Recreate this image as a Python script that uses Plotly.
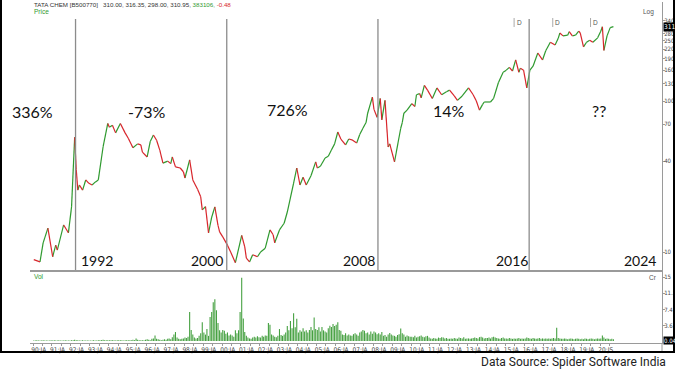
import numpy as np
import pandas as pd
import plotly.graph_objects as go

# ---------------- data ----------------
price_dates = [
    "1990-01","1990-05","1990-07","1990-10","1991-01","1991-03","1991-04","1991-08","1991-11",
    "1992-01","1992-03","1992-04","1992-05","1992-06","1992-08","1992-10","1992-12",
    "1993-02","1993-04","1993-06","1993-09","1993-12","1994-01","1994-03","1994-05","1994-08","1994-11",
    "1995-01","1995-04","1995-07","1995-09","1995-10","1996-01","1996-03","1996-05","1996-07","1996-09","1996-11",
    "1997-02","1997-04","1997-05","1997-07","1997-10","1997-12","1998-01","1998-04","1998-06","1998-09","1998-11","1998-12",
    "1999-02","1999-04","1999-06","1999-08","1999-10","1999-11","2000-01","2000-04","2000-06","2000-09",
    "2001-01","2001-03","2001-04","2001-06","2001-08","2001-11","2002-01","2002-04","2002-07","2002-09","2002-10",
    "2003-01","2003-04","2003-06","2003-10","2003-12","2004-02","2004-04","2004-06","2004-09","2004-12",
    "2005-01","2005-03","2005-06","2005-08","2005-10","2005-12","2006-02","2006-04","2006-07","2006-09","2006-11",
    "2007-02","2007-04","2007-06","2007-08","2007-09","2007-12","2008-01","2008-03","2008-05","2008-06","2008-08",
    "2008-10","2008-11","2009-02","2009-06","2009-07","2009-08","2009-10","2010-01","2010-03","2010-04","2010-06",
    "2010-07","2010-09","2010-11","2011-02","2011-05","2011-08","2011-11","2012-01","2012-04","2012-06","2012-09",
    "2013-01","2013-04","2013-06","2013-08","2013-10","2013-11","2014-03","2014-05","2014-08","2014-11",
    "2015-01","2015-03","2015-05","2015-07","2015-09","2015-10","2015-12","2016-02","2016-04","2016-06","2016-09","2016-12",
    "2017-02","2017-05","2017-08","2017-10","2017-11","2018-01","2018-04","2018-05","2018-07","2018-09","2018-11","2018-12",
    "2019-02","2019-04","2019-06","2019-08","2019-11","2020-01","2020-02","2020-03","2020-05","2020-07","2020-09",
]
price_values = [
    8.9, 8.6, 11.5, 14.4, 9.3, 11.1, 10.3, 15.1, 13.4,
    19.9, 57.6, 35, 25.7, 27.8, 25.7, 30, 28.5,
    27.8, 29, 30, 49.6, 71, 67, 69, 61.5, 71, 61.5,
    56.6, 49, 52, 51.2, 45.9, 42.6, 54, 59.5, 55, 47.3, 38.8,
    40, 38.5, 42.6, 36.6, 36, 34, 30.9, 40.7, 30, 26, 23.2, 19,
    20, 13.4, 17, 19.9, 15, 13.6, 12.6, 11.1, 10, 8.5,
    12.9, 10.8, 9.1, 8.6, 9.6, 9.3, 10, 10.6, 14, 13, 11.5,
    14, 15.5, 18.4, 28.6, 36, 27.8, 31.3, 27.8, 32, 39.5,
    36, 37, 41.9, 43, 47.3, 52, 62.3, 56, 51.2, 56, 55.3,
    52.7, 60, 66, 72, 83, 106, 88, 78, 104, 75, 101,
    49.6, 52, 39.5, 66, 72, 83, 87, 96, 92, 110, 112,
    105, 127, 118, 104, 122, 110, 115, 118, 108, 101, 108,
    122, 110, 100, 87, 95, 98.5, 98.5, 104, 132, 155,
    160, 167, 158, 187, 155, 165, 160, 122, 160, 170, 208, 187,
    215, 245, 235, 260, 282, 270, 273, 288, 270, 273, 290, 282,
    228, 245, 253, 245, 262, 290, 310, 216, 270, 306, 311,
]

vol_1990s = [
    0.1,0.1,0.15,0.1,0.1,0.1,0.15,0.1,0.1,0.1,0.1,0.15,
    0.1,0.15,0.1,0.1,0.15,0.1,0.1,0.1,0.15,0.1,0.1,0.1,
    0.15,0.2,0.3,0.2,0.15,0.1,0.1,0.15,0.1,0.1,0.1,0.1,
    0.1,0.1,0.15,0.1,0.1,0.15,0.2,0.2,0.3,0.2,0.15,0.2,
    0.2,0.15,0.2,0.15,0.1,0.2,0.15,0.2,0.15,0.1,0.15,0.2,
    0.2,0.15,0.2,0.3,0.2,0.6,0.3,0.2,0.15,0.2,0.2,0.3,
    0.4,0.3,0.2,0.5,0.6,1.3,0.5,0.4,0.3,0.2,0.3,0.4,
    0.3,0.5,0.6,0.4,0.9,1.5,2.1,0.8,0.5,0.4,0.5,0.6,
    0.8,0.7,1.0,6.8,2.6,1.5,0.8,0.6,0.7,1.2,1.8,4.4,
    2.0,1.5,2.8,1.2,5.6,6.8,9.1,9.8,7.2,4.2,2.5,2.0,
]
vol_2000s = [
    2.6,2.4,1.7,2.0,1.3,1.5,1.3,1.0,2.5,1.8,2.5,6.8,
    14.8,5.3,2.1,1.2,0.8,0.6,0.5,0.8,1.0,0.8,1.1,0.9,
    0.8,1.2,1.0,1.3,1.2,4.2,3.8,1.5,1.3,1.0,0.9,1.2,
    2.8,1.4,1.2,1.5,2.0,3.5,2.5,4.7,3.0,6.5,3.2,5.2,
    2.0,2.5,2.2,3.0,2.2,2.5,2.0,2.6,3.3,2.5,5.5,2.8,
    2.6,3.2,2.2,3.3,2.5,2.2,2.0,3.0,3.6,3.3,4.0,3.5,
    3.8,4.4,2.6,2.4,1.5,1.4,1.8,1.3,1.5,1.3,1.2,1.6,
    1.8,1.5,1.2,2.0,2.2,2.6,2.4,1.8,2.0,1.5,2.2,1.7,
    2.2,2.0,1.6,1.8,1.5,2.1,1.2,1.4,1.0,1.5,1.9,1.5,
    1.3,1.2,1.0,1.4,1.6,2.9,1.8,1.5,1.0,1.3,1.1,1.0,
]
vol_2010s = [
    1.0,0.9,1.2,0.8,1.0,1.1,1.3,1.0,0.9,1.1,1.2,0.8,
    0.6,0.5,0.7,0.6,0.5,0.8,0.7,0.9,0.8,0.6,0.7,0.5,
    0.5,0.6,0.5,0.7,0.6,0.5,0.8,0.7,0.6,0.9,0.5,0.6,
    0.6,0.5,0.6,0.7,0.8,0.7,0.6,0.9,1.0,0.8,0.6,0.7,
    0.7,0.8,0.6,0.9,1.0,0.8,0.7,0.6,0.5,0.7,0.8,0.6,
    0.6,0.5,0.7,0.6,0.5,0.6,0.5,0.6,0.7,0.5,0.6,0.5,
    0.6,0.8,0.7,0.6,0.5,0.7,0.6,0.5,0.6,0.7,0.5,0.6,
    0.5,0.6,0.5,0.6,0.5,0.6,0.7,0.6,3.1,0.7,0.6,0.5,
    0.5,0.6,0.5,0.4,0.5,0.6,0.5,0.4,0.5,0.6,0.5,0.4,
    0.5,0.4,0.6,0.5,0.4,0.5,0.6,0.5,0.4,0.5,0.6,0.5,
]
vol_2020 = [0.6,1.3,0.8,0.5,0.6,0.5,0.4,0.5,0.4]

period_starts = ["1992-04-01", "2000-04-01", "2008-04-01", "2016-04-01"]
period_labels = ["1992", "2000", "2008", "2016", "2024"]
period_returns = ["336%", "-73%", "726%", "14%", "??"]
dividend_dates = ["2015-06-15", "2017-07-01", "2019-07-01"]
year_ticks = list(range(1990, 2021))
year_ticktext = [f"{y % 100:02d}:JA" for y in year_ticks[:-1]] + ["20:JS"]
price_ticks = [340, 280, 250, 220, 190, 160, 130, 100, 70, 40, 10]
vol_ticks = [15, 11.2, 7.4, 3.6]
last_close = 310.95
last_vol = 0.04
header_name = "TATA CHEM [B500770]"
header_ohlc = "310.00, 316.35, 298.00, 310.95,"
header_vol = "383106,"
header_chg = "-0.48"
source_text = "Data Source: Spider Software India"

# ---------------- build ----------------
GREEN = "#2f9a2f"
RED = "#d8262c"
GRID = "#9a9a9a"
TXT = "#333333"
SMALL = "Liberation Sans Narrow, DejaVu Sans Condensed, Liberation Sans, Arial, sans-serif"
HEAD = "Liberation Sans, Arial, sans-serif"

pd_dates = pd.to_datetime([d + "-15" for d in price_dates])
gx, gy, rx, ry = [], [], [], []
for i in range(len(price_values) - 1):
    if price_values[i + 1] >= price_values[i]:
        gx += [pd_dates[i], pd_dates[i + 1], None]
        gy += [price_values[i], price_values[i + 1], None]
    else:
        rx += [pd_dates[i], pd_dates[i + 1], None]
        ry += [price_values[i], price_values[i + 1], None]

volumes = vol_1990s + vol_2000s + vol_2010s + vol_2020
vol_dates = pd.date_range("1990-01-01", periods=len(volumes), freq="MS") + pd.Timedelta(days=14)

fig = go.Figure()
fig.add_trace(go.Scatter(x=gx, y=gy, mode="lines", line=dict(color=GREEN, width=1.2),
                         xaxis="x2", yaxis="y2", hoverinfo="skip", showlegend=False))
fig.add_trace(go.Scatter(x=rx, y=ry, mode="lines", line=dict(color=RED, width=1.2),
                         xaxis="x2", yaxis="y2", hoverinfo="skip", showlegend=False))
fig.add_trace(go.Bar(x=vol_dates, y=volumes, marker=dict(color="#45a040", line=dict(width=0)),
                     xaxis="x", yaxis="y", showlegend=False, hoverinfo="skip"))

# plot-area geometry helpers (pixels -> paper)
L, R, T, B = 30, 13, 2, 32
W, H = 675, 375
PW, PH = W - L - R, H - T - B
def px(x):
    return (x - L) / PW
def py(y):
    return (H - B - y) / PH

split = py(270)
xr = ["1989-11-03", "2023-04-12"]
xtickfont = dict(family=SMALL, size=6.5, color="#444")
ytickfont = dict(family=SMALL, size=6, color="#444")

fig.update_layout(
    width=W, height=H, margin=dict(l=L, r=R, t=T, b=B, autoexpand=False),
    paper_bgcolor="white", plot_bgcolor="white", bargap=0.25,
    font=dict(family=HEAD, size=7, color=TXT),
    xaxis=dict(domain=[0, 1], range=xr, type="date", anchor="y", automargin=False, tickangle=0,
               tickmode="array", tickvals=[f"{y}-04-20" for y in year_ticks], ticktext=year_ticktext,
               ticks="", showgrid=False, showline=True, linecolor=GRID, linewidth=1,
               tickfont=xtickfont,
               minor=dict(tickmode="array", tickvals=[f"{y}-01-01" for y in year_ticks] +
                          [f"{y}-07-01" for y in year_ticks],
                          ticks="outside", ticklen=2, tickcolor=GRID), zeroline=False),
    xaxis2=dict(domain=[0, 1], range=xr, type="date", anchor="y2", matches="x", automargin=False,
                showticklabels=False, ticks="", showgrid=False, showline=True,
                linecolor=GRID, linewidth=1.5, zeroline=False),
    yaxis=dict(domain=[0, split], range=[-0.47, 16.64], side="right", anchor="x", automargin=False,
               tickmode="array", tickvals=vol_ticks, ticktext=[str(v) for v in vol_ticks],
               ticks="outside", ticklen=2, tickcolor=GRID, showgrid=False, showline=True,
               linecolor=GRID, linewidth=1, zeroline=False, tickfont=ytickfont,
               ticklabelstandoff=-2),
    yaxis2=dict(domain=[split, 1], type="log", range=[0.8808, 2.6556], side="right", anchor="x2",
                automargin=False,
                tickmode="array", tickvals=price_ticks, ticktext=[str(v) for v in price_ticks],
                ticks="outside", ticklen=2, tickcolor=GRID, showgrid=False, showline=True,
                linecolor=GRID, linewidth=1, zeroline=False, tickfont=ytickfont,
                ticklabelstandoff=-2),
)

shapes = []
for d in period_starts:
    shapes.append(dict(type="line", xref="x2", yref="paper", x0=d, x1=d, y0=py(270), y1=py(19),
                       line=dict(color="#8c8c8c", width=1.3)))
for d in dividend_dates:
    shapes.append(dict(type="line", xref="x2", yref="paper", x0=d, x1=d, y0=py(27), y1=py(18),
                       line=dict(color="#aaaaaa", width=1)))
# right axis continues through label strip
shapes.append(dict(type="line", xref="paper", yref="paper", x0=1, x1=1, y0=py(352), y1=py(343),
                   line=dict(color=GRID, width=1)))
# outer black frame (left, bottom, right)
shapes.append(dict(type="line", xref="paper", yref="paper", x0=px(1), x1=px(1), y0=py(352), y1=py(0),
                   line=dict(color="black", width=2)))
shapes.append(dict(type="line", xref="paper", yref="paper", x0=px(0), x1=px(675), y0=py(352), y1=py(352),
                   line=dict(color="black", width=2)))
shapes.append(dict(type="line", xref="paper", yref="paper", x0=px(674), x1=px(674), y0=py(352), y1=py(0),
                   line=dict(color="black", width=2)))
fig.update_layout(shapes=shapes)

ann = []
big = dict(family="Lato, Open Sans, sans-serif", size=16, color="#111")
mid = dict(family="Lato, Open Sans, sans-serif", size=14, color="#111")
ret_x = [32.5, 146.5, 287, 448.5, 599]
ret_y = [111, 111, 109, 110, 110]
for t, x, y in zip(period_returns, ret_x, ret_y):
    ann.append(dict(text=t, x=px(x), y=py(y), xref="paper", yref="paper", showarrow=False,
                    xanchor="center", yanchor="middle", font=big))
lab_x = [79, 225, 377, 530, 658]
lab_anchor = ["left", "right", "right", "right", "right"]
for t, x, a in zip(period_labels, lab_x, lab_anchor):
    ann.append(dict(text=t, x=px(x), y=py(260), xref="paper", yref="paper", showarrow=False,
                    xanchor=a, yanchor="middle", font=mid))
for d in dividend_dates:
    ann.append(dict(text="D", x=d, y=py(22.5), xref="x2", yref="paper", showarrow=False,
                    xanchor="left", yanchor="middle", xshift=0.5, font=dict(family=HEAD, size=6.5, color="#555")))
header = (f"{header_name}&nbsp;&nbsp;&nbsp;{header_ohlc} <span style='color:{GREEN}'>{header_vol}</span> "
          f"<span style='color:{RED}'>{header_chg}</span>")
ann.append(dict(text=header, x=px(32), y=py(4.5), xref="paper", yref="paper", showarrow=False,
                xanchor="left", yanchor="middle", font=dict(family=HEAD, size=6.2, color="#333")))
ann.append(dict(text="Price", x=px(32), y=py(12), xref="paper", yref="paper", showarrow=False,
                xanchor="left", yanchor="middle", font=dict(family=HEAD, size=6.5, color=GREEN)))
ann.append(dict(text="Log", x=px(656), y=py(12), xref="paper", yref="paper", showarrow=False,
                xanchor="right", yanchor="middle", font=dict(family=HEAD, size=6.5, color="#555")))
ann.append(dict(text="Vol", x=px(32), y=py(276), xref="paper", yref="paper", showarrow=False,
                xanchor="left", yanchor="middle", font=dict(family=HEAD, size=6.5, color=GREEN)))
ann.append(dict(text="Cr", x=px(659), y=py(277), xref="paper", yref="paper", showarrow=False,
                xanchor="right", yanchor="middle", font=dict(family=HEAD, size=6.5, color="#555")))
ann.append(dict(text=f"{last_close:.0f}", x=1, y=np.log10(last_close), xref="paper", yref="y2",
                showarrow=False, xanchor="left", yanchor="middle", xshift=0.5, bgcolor="black",
                borderpad=0, font=dict(family=SMALL, size=6.5, color="white")))
ann.append(dict(text=f"{last_vol:.2f}", x=1, y=last_vol, xref="paper", yref="y",
                showarrow=False, xanchor="left", yanchor="middle", xshift=0.5, bgcolor="black",
                borderpad=0, font=dict(family=SMALL, size=6, color="white")))
ann.append(dict(text=source_text, x=px(668), y=py(362), xref="paper", yref="paper", showarrow=False,
                xanchor="right", yanchor="middle", font=dict(family="Roboto, sans-serif", size=12, color="#222")))
fig.update_layout(annotations=ann)

fig.write_html("out.html", config={"displayModeBar": False, "staticPlot": True},
               post_script="document.body.style.margin='0';document.body.style.overflow='hidden';")
